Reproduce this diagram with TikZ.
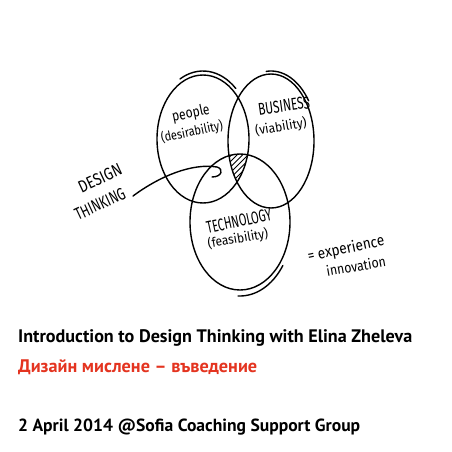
\documentclass[tikz,border=0pt]{standalone}
\usepackage{fontspec}
\newfontfamily\titlefont{PT Sans}
\newfontfamily\handfont{Fira Sans}
\definecolor{titlered}{RGB}{228,52,32}
\newcommand{\hw}[3]{\resizebox{#1pt}{#2pt}{#3}}
\begin{document}
\begin{tikzpicture}[x=1pt,y=-1pt, line cap=round, line join=round,
  sketch/.style={line width=1.4pt, draw=black},
  hatch/.style={line width=0.9pt, draw=black},
  hand/.style={inner sep=0pt, font=\handfont, text=black},
  titleline/.style={anchor=base west, inner sep=0pt, font=\titlefont\bfseries}]
\useasboundingbox[fill=white] (0,0) rectangle (452,452);

% centres of the three circles
\coordinate (pc) at (203,139);
\coordinate (bc) at (271,141);
\coordinate (tc) at (240,222);

% hatched intersection
\begin{scope}
  \clip (pc) ellipse[x radius=46, y radius=64];
  \clip (bc) ellipse[x radius=43, y radius=67];
  \clip (tc) ellipse[x radius=50, y radius=68];
  \foreach \k in {0,...,16} \draw[hatch] ({165+5.5*\k},205) -- ({235+5.5*\k},135);
\end{scope}

% ellipses
\draw[sketch] (pc) ellipse[x radius=46, y radius=64];
\draw[sketch] ([shift={(pc)}]242:49 and 68) arc[start angle=242, end angle=312, x radius=49, y radius=68];
\draw[sketch] (bc) ellipse[x radius=43, y radius=67];
\draw[sketch] ([shift={(bc)}]264:46 and 70) arc[start angle=264, end angle=325, x radius=46, y radius=70];
\draw[sketch] (tc) ellipse[x radius=50, y radius=68];
\draw[sketch] ([shift={(tc)}]92:53 and 74) arc[start angle=92, end angle=36, x radius=53, y radius=74];

% labels in circles
\node[hand, rotate=12] (people) at (191,114) {\hw{38}{11}{people}};
\node[hand, rotate=12] (desir) at (192,132) {\hw{63}{11}{(desirability)}};
\node[hand, rotate=8] (business) at (284,106) {\hw{52}{12}{BUSINESS}};
\node[hand, rotate=10] (viab) at (281,127) {\hw{52}{11}{(viability)}};
\node[hand, rotate=12] (tech) at (239,221) {\hw{66}{12}{TECHNOLOGY}};
\node[hand, rotate=10] (feas) at (238,239) {\hw{61}{11}{(feasibility)}};

% design thinking
\node[hand, rotate=25] (design) at (100,178) {\hw{46}{12}{DESIGN}};
\node[hand, rotate=25] (thinking) at (100,204) {\hw{54}{12}{THINKING}};
\coordinate (as) at (133,196);
\coordinate (ae) at (212,177);
\draw[sketch] (as) .. controls (160,176) and (192,163) .. (217,167)
                   .. controls (224,169) and (222,177) .. (ae);

% = experience innovation
\node[hand, rotate=12] (exp) at (346,249) {\hw{78}{12}{= experience}};
\node[hand, rotate=10] (innov) at (356,266) {\hw{60}{11}{innovation}};

% title lines
\node[titleline] (l1) at (18,342) {\resizebox{394pt}{!}{Introduction to Design Thinking with Elina Zheleva}};
\node[titleline, text=titlered] (l2) at (18,372) {\resizebox{239pt}{!}{Дизайн мислене – въведение}};
\node[titleline] (l3) at (18,431) {\resizebox{342pt}{!}{2 April 2014 @Sofia Coaching Support Group}};
\end{tikzpicture}
\end{document}
